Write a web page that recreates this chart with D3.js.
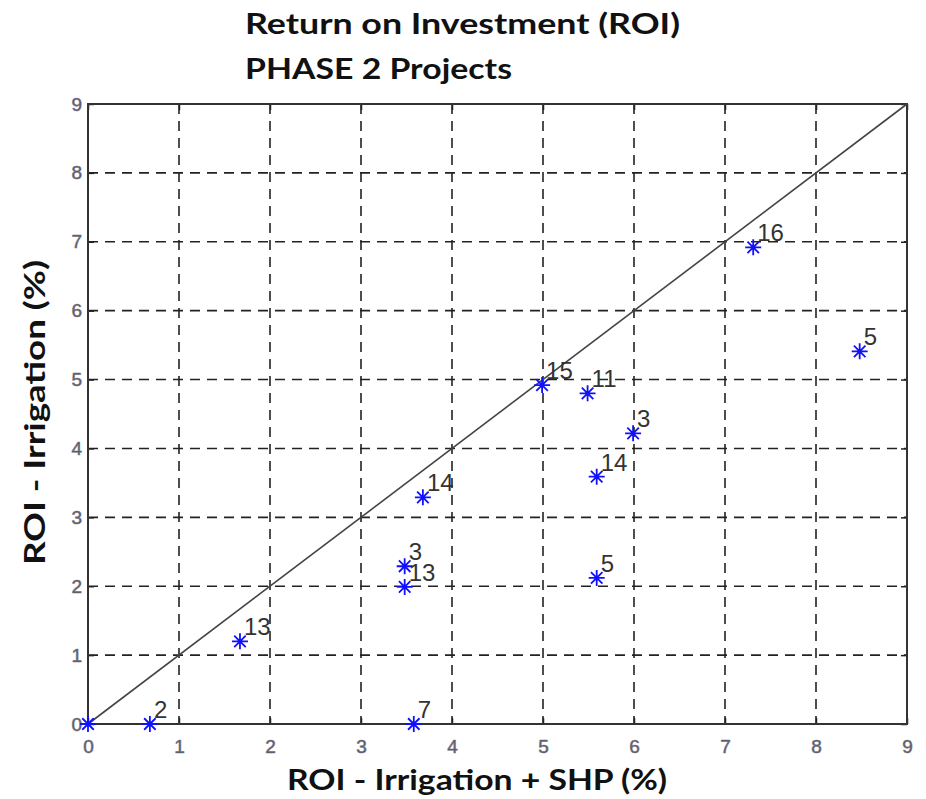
<!DOCTYPE html>
<html>
<head>
<meta charset="utf-8">
<script src="https://cdnjs.cloudflare.com/ajax/libs/d3/7.8.5/d3.min.js"></script>
<style>
  body { margin: 0; background: #fff; }
</style>
</head>
<body>
<script>
// data
var xVals = [0, 0.68, 1.67, 3.48, 3.48, 3.68, 3.58, 4.99, 5.49, 5.99, 5.59, 5.59, 7.31, 8.48];
var yVals = [0, 0, 1.2, 2.29, 1.99, 3.29, 0, 4.92, 4.8, 4.22, 3.59, 2.12, 6.92, 5.41];
var labels = ['', '2', '13', '3', '13', '14', '7', '15', '11', '3', '14', '5', '16', '5'];
var ticks = [0, 1, 2, 3, 4, 5, 6, 7, 8, 9];

var svgW = 926, svgH = 799;
var plot = {left: 88, right: 907, top: 104, bottom: 724};

var svg = d3.select('body')
    .append('svg')
    .attr('width', svgW)
    .attr('height', svgH);

var x = d3.scaleLinear().domain([0, 9]).range([plot.left, plot.right]);
var y = d3.scaleLinear().domain([0, 9]).range([plot.bottom, plot.top]);

//grid lines
svg.append('g')
    .selectAll('line')
    .data(ticks.slice(1, -1))
    .enter().append('line')
    .attr('x1', function (d) { return x(d); })
    .attr('x2', function (d) { return x(d); })
    .attr('y1', plot.top)
    .attr('y2', plot.bottom)
    .style('stroke', '#222')
    .style('stroke-width', 1.6)
    .style('stroke-dasharray', '10,7');

svg.append('g')
    .selectAll('line')
    .data(ticks.slice(1, -1))
    .enter().append('line')
    .attr('y1', function (d) { return y(d); })
    .attr('y2', function (d) { return y(d); })
    .attr('x1', plot.left)
    .attr('x2', plot.right)
    .style('stroke', '#222')
    .style('stroke-width', 1.6)
    .style('stroke-dasharray', '10,7');

//axes with inner ticks
var xAxis = svg.append('g')
    .attr('transform', 'translate(0,' + plot.bottom + ')')
    .call(d3.axisBottom(x).tickValues(ticks).tickSizeInner(-6).tickSizeOuter(0).tickPadding(16));
var yAxis = svg.append('g')
    .attr('transform', 'translate(' + plot.left + ',0)')
    .call(d3.axisLeft(y).tickValues(ticks).tickSizeInner(-6).tickSizeOuter(0).tickPadding(6));

[xAxis, yAxis].forEach(function (a) {
    a.select('.domain').remove();
    a.selectAll('line').style('stroke', '#222').style('stroke-width', 1.5);
    a.selectAll('text')
        .style('font-family', '"Liberation Sans", Arial, sans-serif')
        .style('font-size', '19px')
        .style('fill', '#556')
        .style('stroke', '#778')
        .style('stroke-width', 0.6);
});

//top axis ticks and right axis ticks
svg.append('g').attr('transform', 'translate(0,' + plot.top + ')')
    .call(d3.axisTop(x).tickValues(ticks).tickSizeInner(-6).tickSizeOuter(0).tickFormat(''))
    .call(function (g) { g.select('.domain').remove(); g.selectAll('line').style('stroke', '#222').style('stroke-width', 1.5); });
svg.append('g').attr('transform', 'translate(' + plot.right + ',0)')
    .call(d3.axisRight(y).tickValues(ticks).tickSizeInner(-6).tickSizeOuter(0).tickFormat(''))
    .call(function (g) { g.select('.domain').remove(); g.selectAll('line').style('stroke', '#222').style('stroke-width', 1.5); });

//frame
svg.append('rect')
    .attr('x', plot.left)
    .attr('y', plot.top)
    .attr('width', plot.right - plot.left)
    .attr('height', plot.bottom - plot.top)
    .style('fill', 'none')
    .style('stroke', '#333')
    .style('stroke-width', 2);

//diagonal y = x
svg.append('line')
    .attr('x1', x(0)).attr('y1', y(0))
    .attr('x2', x(9)).attr('y2', y(9))
    .style('stroke', '#444')
    .style('stroke-width', 1.6);

//asterisk markers
var r = 8, rd = r * 0.72;
var star = 'M0,' + (-r) + 'L0,' + r +
    'M' + (-r) + ',0L' + r + ',0' +
    'M' + (-rd) + ',' + (-rd) + 'L' + rd + ',' + rd +
    'M' + (-rd) + ',' + rd + 'L' + rd + ',' + (-rd);

svg.append('g')
    .selectAll('path')
    .data(xVals)
    .enter().append('path')
    .attr('d', star)
    .attr('transform', function (d, i) { return 'translate(' + x(d) + ',' + y(yVals[i]) + ')'; })
    .style('stroke', '#1010ff')
    .style('stroke-width', 1.8)
    .style('fill', 'none');

svg.append('g')
    .selectAll('text')
    .data(labels)
    .enter().append('text')
    .attr('x', function (d, i) { return x(xVals[i]) + 4; })
    .attr('y', function (d, i) { return y(yVals[i]) - 6; })
    .text(function (d) { return d; })
    .style('font-family', '"Liberation Sans", Arial, sans-serif')
    .style('font-size', '24px')
    .style('fill', '#333');

//titles
var titleFont = 'Lato, "Open Sans", sans-serif';
svg.append('text')
    .attr('x', 245).attr('y', 34)
    .attr('textLength', 435)
    .attr('lengthAdjust', 'spacingAndGlyphs')
    .text('Return on Investment (ROI)')
    .style('font-family', titleFont)
    .style('font-weight', 'bold')
    .style('font-size', '28px')
    .style('fill', '#111');

svg.append('text')
    .attr('x', 245).attr('y', 79)
    .attr('textLength', 267)
    .attr('lengthAdjust', 'spacingAndGlyphs')
    .text('PHASE 2 Projects')
    .style('font-family', titleFont)
    .style('font-weight', 'bold')
    .style('font-size', '28px')
    .style('fill', '#111');

svg.append('text')
    .attr('x', 287).attr('y', 790)
    .attr('textLength', 380)
    .attr('lengthAdjust', 'spacingAndGlyphs')
    .text('ROI - Irrigation + SHP (%)')
    .style('font-family', titleFont)
    .style('font-weight', 'bold')
    .style('font-size', '28px')
    .style('fill', '#111');

svg.append('text')
    .attr('transform', 'translate(45,565) rotate(-90)')
    .attr('textLength', 305)
    .attr('lengthAdjust', 'spacingAndGlyphs')
    .text('ROI - Irrigation (%)')
    .style('font-family', titleFont)
    .style('font-weight', 'bold')
    .style('font-size', '28px')
    .style('fill', '#111');
</script>
</body>
</html>
